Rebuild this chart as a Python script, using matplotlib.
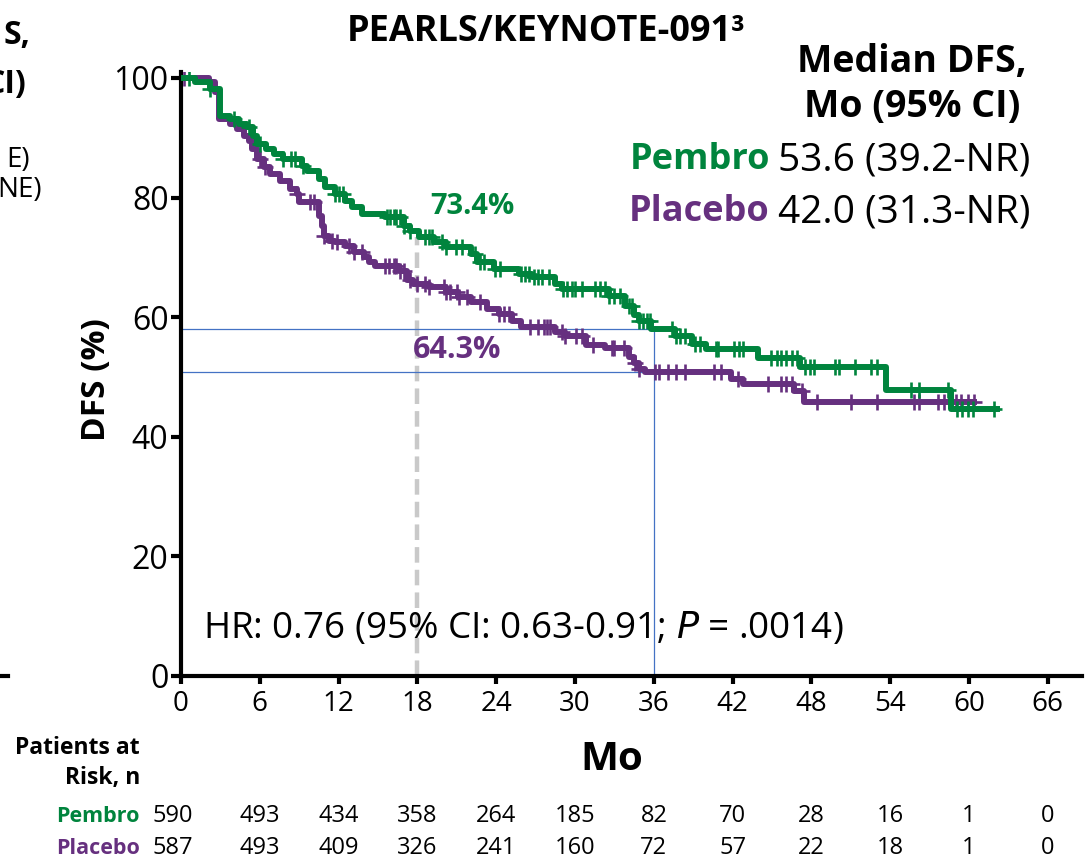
import numpy as np
import matplotlib
matplotlib.use("Agg")
import matplotlib.pyplot as plt

plt.rcParams['font.family'] = ['Open Sans', 'DejaVu Sans']

GREEN = "#00843D"
PURPLE = "#66307F"
BLUE = "#4472C4"

# ---- data ----
pembro_t = [0, 1.1, 2.2, 3.0, 3.7, 4.4, 5.0, 5.5, 5.8, 6.5, 7.1, 7.8, 9.2, 9.6, 10.5, 11.0, 11.7, 12.5, 13.0, 13.8,
            15.5, 17.0, 17.4, 18.1, 19.3, 20.2, 22.1, 22.5, 23.8, 25.7, 26.7, 28.5, 29.0, 32.6, 33.8, 34.5, 34.9, 35.8,
            37.6, 38.9, 40.0, 43.9, 47.1, 53.7, 58.6, 62.1]
pembro_s = [100, 99.3, 98.2, 93.6, 93.1, 92.3, 91.8, 90.3, 89.0, 88.1, 87.3, 86.4, 85.3, 84.4, 83.1, 81.7, 80.6, 79.4,
            78.4, 77.2, 76.7, 75.2, 74.4, 73.4, 72.5, 71.7, 70.5, 69.3, 68.0, 67.2, 66.7, 65.5, 64.7, 63.5, 61.8, 60.4,
            59.3, 58.0, 56.8, 55.6, 54.6, 53.1, 51.6, 47.9, 44.6, 44.6]
placebo_t = [0, 2.1, 2.6, 2.9, 3.7, 4.3, 4.8, 5.2, 5.4, 5.8, 6.3, 6.8, 7.5, 8.3, 8.8, 9.0, 10.5, 10.7, 10.9, 11.3,
             11.7, 12.5, 13.2, 13.9, 14.3, 14.8, 16.6, 17.2, 17.7, 18.9, 20.2, 21.1, 22.1, 23.3, 24.2, 25.2, 25.9,
             28.5, 29.2, 30.8, 32.3, 34.1, 34.5, 34.9, 35.3, 41.9, 42.8, 46.7, 47.4, 60.4]
placebo_s = [100, 99.3, 97.6, 93.1, 92.3, 91.5, 90.3, 89.4, 88.1, 86.4, 85.1, 83.9, 82.7, 81.4, 80.6, 79.2, 76.9,
             75.2, 73.5, 72.7, 72.5, 71.9, 70.9, 70.0, 69.2, 68.5, 67.7, 66.3, 65.5, 65.0, 64.2, 63.3, 62.5, 61.3,
             60.5, 59.3, 58.3, 57.6, 56.8, 55.4, 54.9, 53.4, 52.4, 51.3, 50.8, 49.7, 48.9, 47.7, 45.9, 45.9]

pembro_cens = [0.6, 2.2, 4.0, 5.2, 6.0, 7.8, 8.4, 8.7, 9.3, 11.7, 12.0, 12.3, 15.7, 15.9, 16.2, 16.4, 16.7, 17.0,
               17.4, 18.6, 18.9, 19.1, 19.9, 20.2, 20.9, 21.4, 22.4, 22.8, 23.1, 23.9, 24.3, 25.9, 26.2, 26.5, 26.9,
               27.2, 27.5, 28.0, 29.1, 29.4, 29.8, 30.0, 30.5, 31.5, 31.9, 32.3, 32.6, 33.0, 33.4, 34.1, 34.3, 34.9,
               35.2, 35.5, 35.7, 37.4, 37.7, 38.0, 38.4, 39.1, 39.5, 40.7, 40.9, 42.1, 42.5, 42.8, 44.9, 45.4, 45.7,
               46.1, 46.5, 46.9, 47.5, 47.9, 48.2, 49.8, 50.1, 51.3, 52.5, 53.0, 55.6, 56.2, 58.4, 59.1, 59.5, 59.9,
               60.3, 61.9]
placebo_cens = [0.2, 6.0, 6.4, 8.8, 9.8, 10.1, 10.9, 11.5, 11.9, 12.8, 13.2, 13.8, 15.5, 15.8, 16.2, 16.4, 16.7,
                17.0, 17.4, 18.0, 18.6, 18.9, 20.0, 20.2, 20.5, 21.0, 21.2, 21.8, 22.8, 24.2, 24.6, 25.0, 26.6, 27.2,
                27.6, 27.9, 28.1, 29.0, 29.2, 30.1, 30.5, 31.4, 32.8, 33.0, 33.7, 34.6, 34.9, 36.1, 36.4, 37.1, 37.7,
                38.4, 40.6, 41.1, 42.4, 44.7, 45.7, 46.1, 46.5, 47.3, 48.4, 51.0, 53.0, 55.8, 56.2, 57.6, 58.1, 59.0,
                59.4, 59.9, 60.4]

x_ticks = [0, 6, 12, 18, 24, 30, 36, 42, 48, 54, 60, 66]
y_ticks = [0, 20, 40, 60, 80, 100]
risk_pembro = [590, 493, 434, 358, 264, 185, 82, 70, 28, 16, 1, 0]
risk_placebo = [587, 493, 409, 326, 241, 160, 72, 57, 22, 18, 1, 0]

landmark_month = 18
pembro_landmark = 73.4
median_month = 36
pembro_at_36 = 58.1
placebo_at_36 = 50.9


def step_at(times, surv, t):
    times = np.asarray(times)
    idx = np.searchsorted(times, t, side='right') - 1
    return np.asarray(surv)[np.clip(idx, 0, len(surv) - 1)]


W, H = 1089, 861
fig = plt.figure(figsize=(W / 100, H / 100), dpi=100)


def fx(px):
    return px / W


def fy(py):
    return 1 - py / H


ax = fig.add_axes([fx(181), fy(676), fx(1082) - fx(181), fy(72) - fy(676)])
ax.set_xlim(0, 68.6)
ax.set_ylim(0, 101)

# reference lines
ax.plot([landmark_month, landmark_month], [0, pembro_landmark], color="#C9C9C9", lw=3.2,
        dashes=(3.5, 1.6), zorder=1)
ax.plot([0, median_month], [pembro_at_36, pembro_at_36], color=BLUE, lw=0.9, zorder=1)
ax.plot([0, median_month], [placebo_at_36, placebo_at_36], color=BLUE, lw=0.9, zorder=1)
ax.plot([median_month, median_month], [0, pembro_at_36], color=BLUE, lw=0.9, zorder=1)

# curves
ax.plot(placebo_t, placebo_s, drawstyle='steps-post', color=PURPLE, lw=4.3, zorder=3)
ax.plot(placebo_cens, step_at(placebo_t, placebo_s, placebo_cens), ls='none', marker='+',
        ms=12, mew=1.9, color=PURPLE, zorder=3)
ax.plot(pembro_t, pembro_s, drawstyle='steps-post', color=GREEN, lw=4.3, zorder=4)
ax.plot(pembro_cens, step_at(pembro_t, pembro_s, pembro_cens), ls='none', marker='+',
        ms=12, mew=1.9, color=GREEN, zorder=4)

# axes style
for s in ['top', 'right']:
    ax.spines[s].set_visible(False)
for s in ['left', 'bottom']:
    ax.spines[s].set_linewidth(3)
ax.set_xticks(x_ticks)
ax.set_yticks(y_ticks)
ax.tick_params(axis='both', direction='out', width=3, length=7, labelsize=23, pad=2)
ax.tick_params(axis='x', length=6, labelsize=20, pad=4)

# texts
fig.text(fx(546), fy(32), "PEARLS/KEYNOTE-091³", ha='center', va='center', fontsize=26, fontweight='bold')
fig.text(fx(912), fy(62), "Median DFS,", ha='center', va='center', fontsize=27, fontweight='bold')
fig.text(fx(912), fy(107), "Mo (95% CI)", ha='center', va='center', fontsize=27, fontweight='bold')
fig.text(fx(770), fy(160), "Pembro", ha='right', va='center', fontsize=26, fontweight='bold', color=GREEN)
fig.text(fx(778), fy(160), "53.6 (39.2-NR)", ha='left', va='center', fontsize=28)
fig.text(fx(770), fy(212), "Placebo", ha='right', va='center', fontsize=26, fontweight='bold', color=PURPLE)
fig.text(fx(778), fy(212), "42.0 (31.3-NR)", ha='left', va='center', fontsize=28)

fig.text(fx(430), fy(206), "73.4%", ha='left', va='center', fontsize=21, fontweight='bold', color=GREEN)
fig.text(fx(413), fy(350), "64.3%", ha='left', va='center', fontsize=22, fontweight='bold', color=PURPLE)
fig.text(fx(203), fy(628), "HR: 0.76 (95% CI: 0.63-0.91; $\\it{P}$ = .0014)", ha='left', va='center',
         fontsize=26.5)

fig.text(fx(96), fy(380), "DFS (%)", ha='center', va='center', fontsize=24, fontweight='bold', rotation=90)
fig.text(fx(612), fy(760), "Mo", ha='center', va='center', fontsize=29, fontweight='bold')

# cut-off text from neighbouring panel (clipped at the left edge, as in the source)
fig.text(fx(30), fy(36), "S,", ha='right', va='center', fontsize=23, fontweight='bold')
fig.text(fx(26), fy(85), "CI)", ha='right', va='center', fontsize=23, fontweight='bold')
fig.text(fx(30), fy(160), "E)", ha='right', va='center', fontsize=20)
fig.text(fx(42), fy(190), "NE)", ha='right', va='center', fontsize=20)
fig.add_artist(plt.Line2D([0, fx(8)], [fy(676), fy(676)], color='black', lw=3))

# risk table
fig.text(fx(140), fy(748), "Patients at", ha='right', va='center', fontsize=16.5, fontweight='bold')
fig.text(fx(140), fy(778), "Risk, n", ha='right', va='center', fontsize=16.5, fontweight='bold')
fig.text(fx(140), fy(816), "Pembro", ha='right', va='center', fontsize=15.5, fontweight='bold', color=GREEN)
fig.text(fx(140), fy(848), "Placebo", ha='right', va='center', fontsize=15.5, fontweight='bold', color=PURPLE)
trans = matplotlib.transforms.blended_transform_factory(ax.transData, fig.transFigure)
for i, (m, a, b) in enumerate(zip(x_ticks, risk_pembro, risk_placebo)):
    off = -0.6 if i == 0 else 0
    ax.text(m + off, fy(816), str(a), transform=trans, ha='center', va='center', fontsize=17)
    ax.text(m + off, fy(848), str(b), transform=trans, ha='center', va='center', fontsize=17)

fig.savefig("out.png", dpi=100)
